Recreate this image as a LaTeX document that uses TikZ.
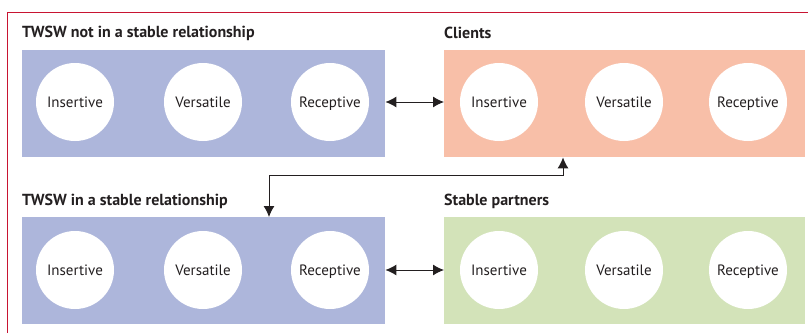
\documentclass[tikz,border=0pt]{standalone}
\usepackage{fontspec}
\setmainfont{PT Sans}
\usetikzlibrary{arrows.meta,calc}
\definecolor{frame}{RGB}{200,20,50}
\definecolor{bluebox}{RGB}{173,182,219}
\definecolor{salmon}{RGB}{248,191,168}
\definecolor{greenbox}{RGB}{211,227,185}
\definecolor{txt}{RGB}{35,31,32}
\tikzset{
  grp/.style={fill=#1, draw=none, minimum width=363pt, minimum height=107pt, inner sep=0pt, anchor=north west},
  grpr/.style={fill=#1, draw=none, minimum width=361pt, minimum height=107pt, inner sep=0pt, anchor=north west},
  role/.style={circle, fill=white, minimum size=78pt, inner sep=0pt, text height=11pt, text depth=1pt, font=\fontsize{15}{17}\selectfont, text=txt},
  ttl/.style={anchor=west, inner sep=0pt, font=\bfseries\fontsize{16}{18}\selectfont, text=txt},
  arr/.style={{Latex[length=11pt,width=11pt]}-{Latex[length=11pt,width=11pt]}, line width=1pt, draw=txt}
}
\begin{document}
\begin{tikzpicture}[x=1pt,y=-1pt]
\useasboundingbox (0,0) rectangle (808,332);
\draw[frame, line width=1pt] (7,335) -- (7,12) -- (812,12);
% groups
\node[grp=bluebox] (b1) at (22,50) {};
\node[grpr=salmon] (b2) at (444,50) {};
\node[grp=bluebox] (b3) at (22,217) {};
\node[grpr=greenbox] (b4) at (444,217) {};
% titles
\node[ttl] (t1) at (22,33) {TWSW not in a stable relationship};
\node[ttl] (t2) at (444,33) {Clients};
\node[ttl] (t3) at (22,201) {TWSW in a stable relationship};
\node[ttl] (t4) at (444,201) {Stable partners};
% circles
\node[role] (b1i) at (75,102) {Insertive};
\node[role] (b1v) at (203,102) {Versatile};
\node[role] (b1r) at (330,102) {Receptive};
\node[role] (b2i) at (499,102) {Insertive};
\node[role] (b2v) at (624,102) {Versatile};
\node[role] (b2r) at (748,102) {Receptive};
\node[role] (b3i) at (75,270) {Insertive};
\node[role] (b3v) at (203,270) {Versatile};
\node[role] (b3r) at (330,270) {Receptive};
\node[role] (b4i) at (499,270) {Insertive};
\node[role] (b4v) at (624,270) {Versatile};
\node[role] (b4r) at (748,270) {Receptive};
% connectors
\draw[arr] (b1.east |- b1r) -- (b2.west |- b2i);
\draw[arr] (b3.east |- b3r) -- (b4.west |- b4i);
\coordinate (ea) at ($(b2.south west)+(119,0)$);
\coordinate (eb) at ($(b3.north west)+(247,0)$);
\coordinate (em) at (0,175);
\draw[arr] (ea) -- (ea |- em) -| (eb);
\end{tikzpicture}
\end{document}
